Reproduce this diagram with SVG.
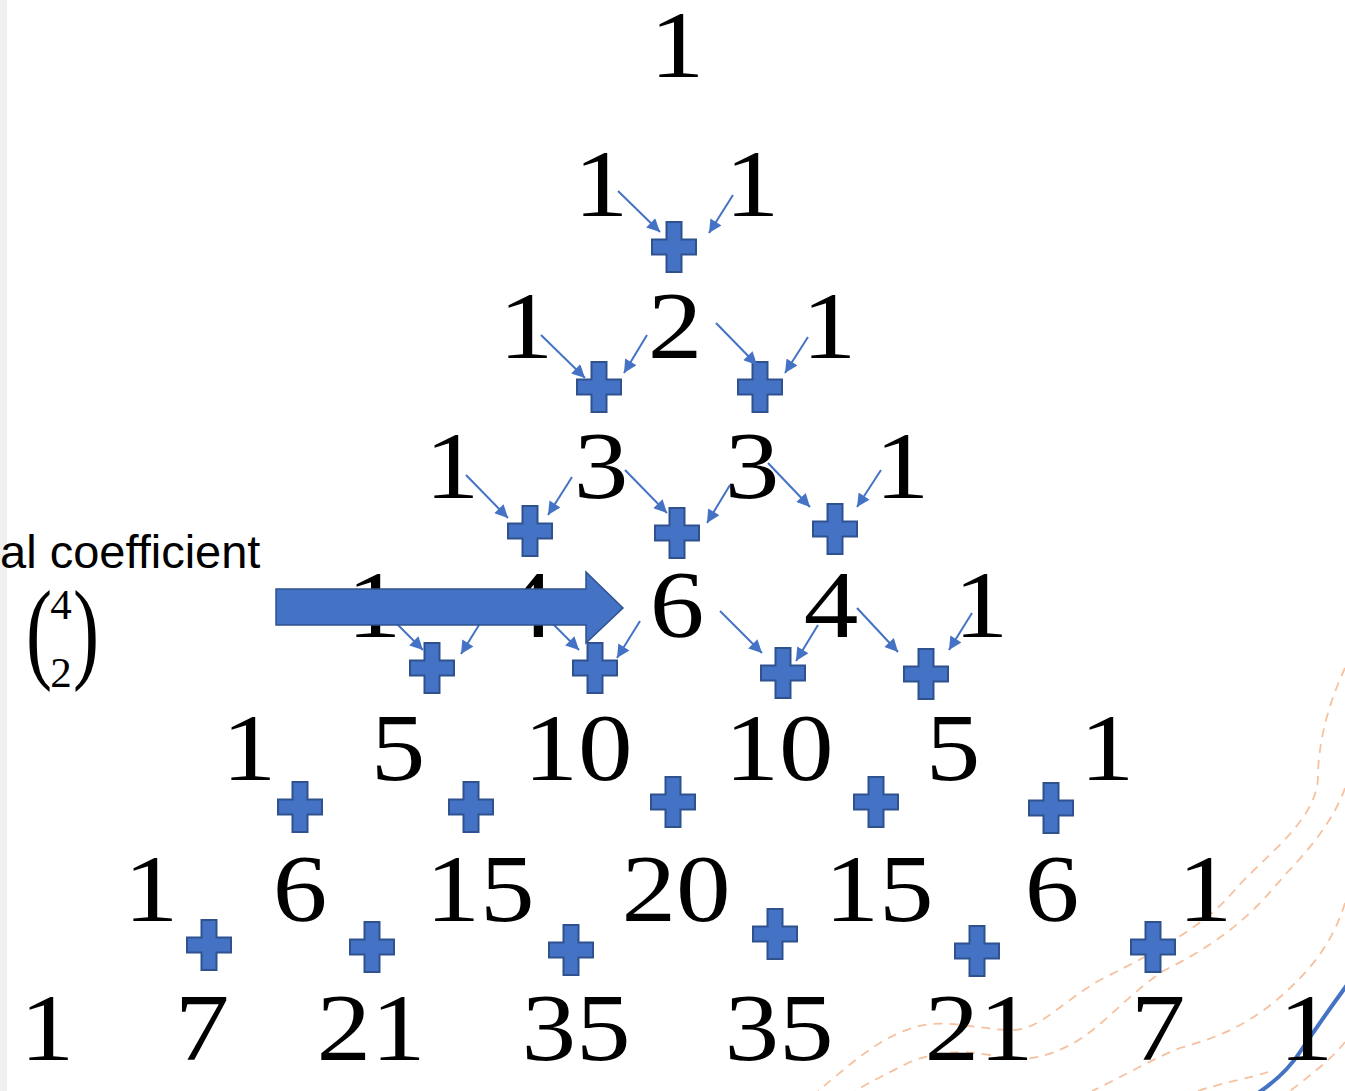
<svg xmlns="http://www.w3.org/2000/svg" xmlns:xlink="http://www.w3.org/1999/xlink" width="1345" height="1091" viewBox="0 0 1345 1091">
<style>
.num{font-family:"Liberation Serif","Times New Roman",serif;font-size:95px;fill:#000;text-anchor:middle}
.plus{fill:#4472C4;stroke:#2F528F;stroke-width:2}
.conn line{stroke:#4472C4;stroke-width:2;fill:none}
.deco{fill:none;stroke:#F6C19E;stroke-width:1.8;stroke-dasharray:9 7}
.lbl{font-family:"Liberation Sans",Arial,sans-serif;font-size:47px;fill:#000}
.math{font-family:"Liberation Serif","Times New Roman",serif;fill:#000;text-anchor:middle}
</style>
<defs>
<marker id="ah" viewBox="0 0 10 10" refX="10" refY="5" markerWidth="14" markerHeight="13" markerUnits="userSpaceOnUse" orient="auto">
<path d="M0,0 L10,5 L0,10 Z" fill="#4472C4"/>
</marker>
<path id="pl" d="M-7.5,-25 H7.5 V-7.5 H22 V7.5 H7.5 V25 H-7.5 V7.5 H-22 V-7.5 H-7.5 Z"/>
</defs>
<rect x="0" y="0" width="1345" height="1091" fill="#fff"/>
<rect x="0" y="0" width="7" height="1091" fill="#f0f0f0"/>

<g id="decoration">
<path class="deco" d="M1345,668 C1330,700 1318,740 1318,778 C1316,822 1262,858 1233,892 C1205,925 1160,950 1100,980 C1060,1003 1040,1030 1012,1030 C985,1030 960,1022 930,1024 C885,1030 850,1065 818,1091"/>
<path class="deco" d="M1345,788 C1333,822 1307,852 1283,877 C1260,905 1230,938 1165,970 C1130,992 1100,1030 1070,1045 C1040,1060 1020,1062 990,1055 C960,1050 935,1052 910,1062 C890,1072 870,1082 855,1091"/>
<path class="deco" d="M1345,903 C1335,935 1318,962 1290,988 C1262,1015 1230,1035 1180,1048 C1150,1060 1120,1078 1092,1091"/>
<path class="deco" d="M1345,1042 C1335,1055 1320,1068 1290,1091"/>
<path class="deco" d="M1198,1091 C1225,1082 1250,1078 1268,1072"/>
<path d="M1347,985 Q1320,1022 1300,1052 Q1285,1075 1258,1093" fill="none" stroke="#4472C4" stroke-width="4"/>
</g>

<g id="label">
<text class="lbl" x="0" y="568">al coefficient</text>
<text class="math" font-size="112" transform="translate(39 668) scale(0.7 1)">(</text>
<text class="math" font-size="43" x="61" y="619">4</text>
<text class="math" font-size="43" x="61" y="687">2</text>
<text class="math" font-size="112" transform="translate(86 668) scale(0.7 1)">)</text>
</g>

<g id="numbers">
<g id="n0-0"><text class="num" transform="translate(677 77) scale(1.15 1)">1</text></g>
<g id="n1-0"><text class="num" transform="translate(601 216) scale(1.15 1)">1</text></g>
<g id="n1-1"><text class="num" transform="translate(752 216) scale(1.15 1)">1</text></g>
<g id="n2-0"><text class="num" transform="translate(526 358) scale(1.15 1)">1</text></g>
<g id="n2-1"><text class="num" transform="translate(675 358) scale(1.15 1)">2</text></g>
<g id="n2-2"><text class="num" transform="translate(829 358) scale(1.15 1)">1</text></g>
<g id="n3-0"><text class="num" transform="translate(452 498) scale(1.15 1)">1</text></g>
<g id="n3-1"><text class="num" transform="translate(601 498) scale(1.15 1)">3</text></g>
<g id="n3-2"><text class="num" transform="translate(752 498) scale(1.15 1)">3</text></g>
<g id="n3-3"><text class="num" transform="translate(902 498) scale(1.15 1)">1</text></g>
<g id="n4-0"><text class="num" transform="translate(374 637) scale(1.15 1)">1</text></g>
<g id="n4-1"><text class="num" transform="translate(527 637) scale(1.15 1)">4</text></g>
<g id="n4-2"><text class="num" transform="translate(677 637) scale(1.15 1)">6</text></g>
<g id="n4-3"><text class="num" transform="translate(831 637) scale(1.15 1)">4</text></g>
<g id="n4-4"><text class="num" transform="translate(981 637) scale(1.15 1)">1</text></g>
<g id="n5-0"><text class="num" transform="translate(249 780) scale(1.15 1)">1</text></g>
<g id="n5-1"><text class="num" transform="translate(398 780) scale(1.15 1)">5</text></g>
<g id="n5-2"><text class="num" transform="translate(578 780) scale(1.15 1)">10</text></g>
<g id="n5-3"><text class="num" transform="translate(779 780) scale(1.15 1)">10</text></g>
<g id="n5-4"><text class="num" transform="translate(953 780) scale(1.15 1)">5</text></g>
<g id="n5-5"><text class="num" transform="translate(1107 780) scale(1.15 1)">1</text></g>
<g id="n6-0"><text class="num" transform="translate(151 921) scale(1.15 1)">1</text></g>
<g id="n6-1"><text class="num" transform="translate(300 921) scale(1.15 1)">6</text></g>
<g id="n6-2"><text class="num" transform="translate(480 921) scale(1.15 1)">15</text></g>
<g id="n6-3"><text class="num" transform="translate(676 921) scale(1.15 1)">20</text></g>
<g id="n6-4"><text class="num" transform="translate(879 921) scale(1.15 1)">15</text></g>
<g id="n6-5"><text class="num" transform="translate(1052 921) scale(1.15 1)">6</text></g>
<g id="n6-6"><text class="num" transform="translate(1205 921) scale(1.15 1)">1</text></g>
<g id="n7-0"><text class="num" transform="translate(47 1060) scale(1.15 1)">1</text></g>
<g id="n7-1"><text class="num" transform="translate(202 1060) scale(1.15 1)">7</text></g>
<g id="n7-2"><text class="num" transform="translate(371 1060) scale(1.15 1)">21</text></g>
<g id="n7-3"><text class="num" transform="translate(576 1060) scale(1.15 1)">35</text></g>
<g id="n7-4"><text class="num" transform="translate(779 1060) scale(1.15 1)">35</text></g>
<g id="n7-5"><text class="num" transform="translate(979 1060) scale(1.15 1)">21</text></g>
<g id="n7-6"><text class="num" transform="translate(1158 1060) scale(1.15 1)">7</text></g>
<g id="n7-7"><text class="num" transform="translate(1306 1060) scale(1.15 1)">1</text></g>
</g>

<g id="pluses">
<g id="p1-0"><use class="plus" href="#pl" x="674" y="247"/></g>
<g id="p2-0"><use class="plus" href="#pl" x="599" y="387"/></g>
<g id="p2-1"><use class="plus" href="#pl" x="760" y="387"/></g>
<g id="p3-0"><use class="plus" href="#pl" x="530" y="531"/></g>
<g id="p3-1"><use class="plus" href="#pl" x="677" y="533"/></g>
<g id="p3-2"><use class="plus" href="#pl" x="835" y="529"/></g>
<g id="p4-0"><use class="plus" href="#pl" x="432" y="668"/></g>
<g id="p4-1"><use class="plus" href="#pl" x="595" y="668"/></g>
<g id="p4-2"><use class="plus" href="#pl" x="783" y="673"/></g>
<g id="p4-3"><use class="plus" href="#pl" x="926" y="674"/></g>
<g id="p5-0"><use class="plus" href="#pl" x="300" y="807"/></g>
<g id="p5-1"><use class="plus" href="#pl" x="471" y="807"/></g>
<g id="p5-2"><use class="plus" href="#pl" x="673" y="802"/></g>
<g id="p5-3"><use class="plus" href="#pl" x="876" y="802"/></g>
<g id="p5-4"><use class="plus" href="#pl" x="1051" y="808"/></g>
<g id="p6-0"><use class="plus" href="#pl" x="209" y="945"/></g>
<g id="p6-1"><use class="plus" href="#pl" x="372" y="947"/></g>
<g id="p6-2"><use class="plus" href="#pl" x="571" y="950"/></g>
<g id="p6-3"><use class="plus" href="#pl" x="775" y="934"/></g>
<g id="p6-4"><use class="plus" href="#pl" x="977" y="951"/></g>
<g id="p6-5"><use class="plus" href="#pl" x="1153" y="947"/></g>
</g>

<g id="connectors" class="conn">
<line x1="618" y1="191" x2="660" y2="232" marker-end="url(#ah)"/>
<line x1="733" y1="195" x2="709" y2="233" marker-end="url(#ah)"/>
<line x1="541" y1="335" x2="585" y2="378" marker-end="url(#ah)"/>
<line x1="647" y1="335" x2="624" y2="373" marker-end="url(#ah)"/>
<line x1="716" y1="323" x2="757" y2="365" marker-end="url(#ah)"/>
<line x1="808" y1="337" x2="785" y2="373" marker-end="url(#ah)"/>
<line x1="466" y1="475" x2="508" y2="518" marker-end="url(#ah)"/>
<line x1="572" y1="477" x2="548" y2="515" marker-end="url(#ah)"/>
<line x1="625" y1="470" x2="667" y2="513" marker-end="url(#ah)"/>
<line x1="730" y1="485" x2="707" y2="523" marker-end="url(#ah)"/>
<line x1="768" y1="463" x2="810" y2="507" marker-end="url(#ah)"/>
<line x1="881" y1="470" x2="857" y2="507" marker-end="url(#ah)"/>
<line x1="381" y1="608" x2="423" y2="650" marker-end="url(#ah)"/>
<line x1="484" y1="617" x2="461" y2="654" marker-end="url(#ah)"/>
<line x1="537" y1="608" x2="579" y2="650" marker-end="url(#ah)"/>
<line x1="640" y1="621" x2="617" y2="658" marker-end="url(#ah)"/>
<line x1="720" y1="611" x2="762" y2="653" marker-end="url(#ah)"/>
<line x1="818" y1="625" x2="796" y2="661" marker-end="url(#ah)"/>
<line x1="857" y1="608" x2="898" y2="652" marker-end="url(#ah)"/>
<line x1="972" y1="613" x2="949" y2="650" marker-end="url(#ah)"/>
</g>

<g id="big-arrow">
<path d="M276,589 H586 V572 L623,608 L586,643 V625 H276 Z" fill="#4472C4" stroke="#2F528F" stroke-width="1.5"/>
</g>
</svg>
